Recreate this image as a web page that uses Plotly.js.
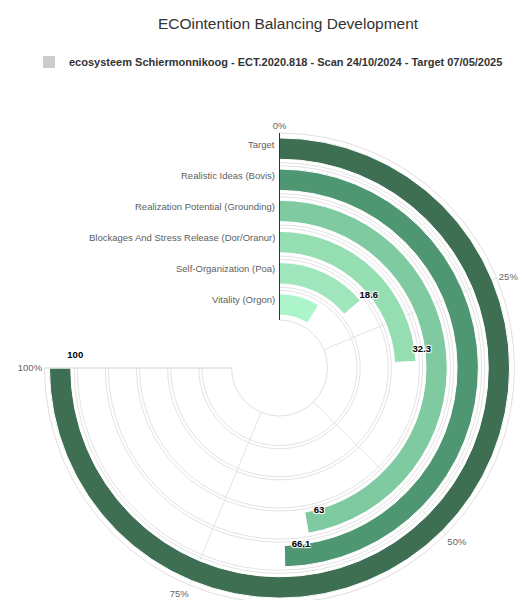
<!DOCTYPE html>
<html><head><meta charset="utf-8">
<script src="https://cdn.plot.ly/plotly-3.0.1.min.js"></script>
<style>html,body{margin:0;padding:0;overflow:hidden;background:#fff}</style>
</head><body><div id="chart" style="width:523px;height:620px"></div>
<script>
const categories = ['Target','Realistic Ideas (Bovis)','Realization Potential (Grounding)','Blockages And Stress Release (Dor/Oranur)','Self-Organization (Poa)','Vitality (Orgon)'];
const values = [100, 66.1, 63, 32.3, 18.6, 11.8];
const valueLabels = ['100','66.1','63','32.3','18.6',''];
const barColors = ['#3f6f52','#4f9673','#7fcaa0','#95deb2','#9fe6bd','#acf5ca'];
const tickValues = [0, 25, 50, 75, 100];
const tickLabels = ['0%','25%','50%','75%','100%'];
const seriesName = 'ecosysteem Schiermonnikoog - ECT.2020.818 - Scan 24/10/2024 - Target 07/05/2025';
const chartTitle = 'ECOintention Balancing Development';

// geometry (pixels)
const W = 523, H = 620, CX = 279.5, CY = 368, R = 235, HOLE = 48;
const SWEEP = 270;               // degrees used by 0..100 %
const toDeg = v => v * SWEEP / 100;
const n = categories.length;
const bandIdx = categories.map((c, i) => n - 1 - i);   // 0 = innermost ring
const BAR_FILL = 0.685, PAD = (1 - BAR_FILL) / 2;
const bandPx = (R - HOLE) / n;
const FONT = 'Liberation Sans, Arial, Helvetica, sans-serif';

// double grid lines around each band boundary
const gridVals = [];
for (let k = 1; k < n; k++) { gridVals.push(k - 0.05, k + 0.05); }

const bars = {
  type: 'barpolar',
  r: values.map(() => BAR_FILL),
  base: bandIdx.map(k => k + PAD),
  theta: values.map(v => toDeg(v) / 2),
  width: values.map(v => toDeg(v)),
  marker: { color: barColors, line: { color: '#ffffff', width: 1 } },
  showlegend: false,
  hoverinfo: 'skip'
};

const labels = {
  type: 'scatterpolar',
  mode: 'markers+text',
  r: bandIdx.map(k => k + 0.5),
  theta: values.map(v => toDeg(v)),
  text: valueLabels,
  textposition: 'top right',
  marker: { size: 10, opacity: 0 },
  textfont: { family: FONT, size: 9.5, color: '#000000', weight: 'bold',
              shadow: '1px 1px 1px #fff, -1px -1px 1px #fff, 1px -1px 1px #fff, -1px 1px 1px #fff' },
  showlegend: false,
  hoverinfo: 'skip',
  cliponaxis: false
};

const legendTrace = {
  type: 'barpolar',
  r: [null], theta: [null],
  name: seriesName,
  marker: { color: '#cccccc' },
  showlegend: true
};

const annotations = categories.map((c, i) => {
  const rpx = HOLE + (bandIdx[i] + 0.5) * bandPx;
  return {
    text: c, xref: 'paper', yref: 'paper',
    x: (CX - 3) / W, y: 1 - (CY - rpx - 4.5) / H,
    xanchor: 'right', yanchor: 'middle', showarrow: false,
    font: { family: FONT, size: 9.5, color: '#606060' }
  };
});

const layout = {
  width: W, height: H,
  margin: { l: 0, r: 0, t: 0, b: 0 },
  paper_bgcolor: '#ffffff',
  font: { family: FONT, color: '#666666' },
  title: { text: chartTitle, x: 288 / W, xanchor: 'center', xref: 'paper',
           y: 1 - 24 / H, yanchor: 'middle', yref: 'container',
           font: { family: FONT, size: 15.5, color: '#333333' } },
  showlegend: true,
  legend: { orientation: 'h', x: 29 / W, xanchor: 'left', y: 1 - 62 / H, yanchor: 'middle',
            font: { family: FONT, size: 11, color: '#333333', weight: 'bold' } },
  polar: {
    domain: { x: [(CX - R) / W, (CX + R) / W], y: [1 - (CY + R) / H, 1 - (CY - R) / H] },
    sector: [-180, 90],
    hole: HOLE / R,
    bgcolor: '#ffffff',
    angularaxis: {
      type: 'linear',
      direction: 'clockwise', rotation: 90, thetaunit: 'degrees',
      tickmode: 'array', tickvals: tickValues.map(toDeg), ticktext: tickLabels,
      ticks: '', showline: true, linecolor: '#e0e0e0', linewidth: 1,
      showgrid: true, gridcolor: '#e3e3e3', gridwidth: 1, showticklabels: true,
      tickfont: { family: FONT, size: 9.5, color: '#666666' }
    },
    radialaxis: {
      range: [0, n], autorange: false, angle: 90,
      tickmode: 'array', tickvals: gridVals, showticklabels: false, ticks: '',
      showgrid: true, gridcolor: '#e3e3e3', gridwidth: 1,
      showline: true, linecolor: '#333333', linewidth: 1
    }
  },
  annotations: annotations
};

Plotly.newPlot('chart', [bars, labels, legendTrace], layout, { displayModeBar: false, staticPlot: true });
</script>
</body></html>
